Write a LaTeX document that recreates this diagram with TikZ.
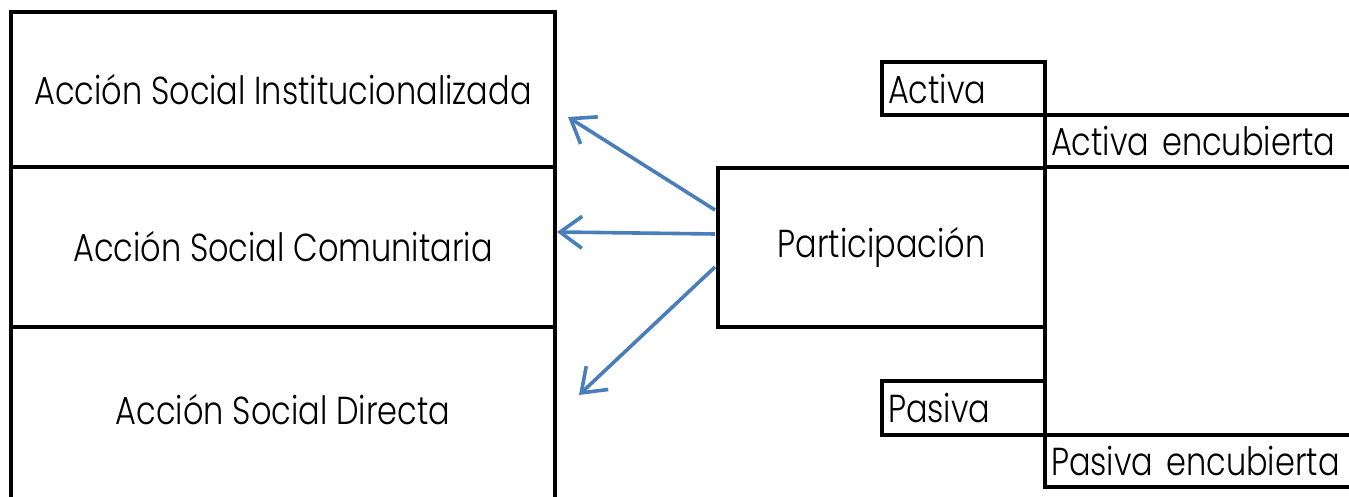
\documentclass[tikz,border=0pt]{standalone}
\usepackage{fontspec}
\setmainfont{Poppins Light}[FakeStretch=0.82]
\usetikzlibrary{arrows.meta,calc}

\definecolor{arrowblue}{HTML}{4A7EBB}

\tikzset{
  cell/.style={draw=black, line width=2pt, inner sep=0pt, outer sep=0pt,
    font=\fontsize{19.5}{23}\selectfont},
  tag/.style={cell, align=left, inner xsep=3pt},
  plain/.style={inner sep=0pt, font=\fontsize{19.5}{23}\selectfont},
  link/.style={draw=arrowblue, line width=1.8pt,
    -{Straight Barb[length=11pt, width=16pt, line width=1.8pt]}}
}

\begin{document}
\begin{tikzpicture}[x=0.5pt, y=-0.5pt]
  \useasboundingbox (0,0) rectangle (1349,497);
  \clip (0,0) rectangle (1349,497);

  % left column of actions
  \node[cell, minimum width=272pt, minimum height=77.5pt] (ins) at (283,89.5)
    {Acción Social Institucionalizada};
  \node[cell, minimum width=272pt, minimum height=80pt] (com) at (283,247)
    {Acción Social Comunitaria};
  \node[cell, minimum width=272pt, minimum height=110pt] (dirbox) at (283,437) {};
  \node[plain] (dir) at (283,410) {Acción Social Directa};

  % central node
  \node[cell, minimum width=163.5pt, minimum height=79.5pt] (part) at (881.5,247.5)
    {Participación};

  % right column of participation kinds
  \node[tag, minimum height=26.5pt, text width=75.5pt] (act) at (963.5,88.5) {Activa};
  \node[tag, minimum height=26pt, text width=161.5pt] (actenc) at (1212.5,141)
    {Activa encubierta};
  \node[tag, minimum height=27pt, text width=75.5pt] (pas) at (963.5,408) {Pasiva};
  \node[tag, minimum height=26pt, text width=161.5pt] (pasenc) at (1212.5,461)
    {Pasiva encubierta};
  \draw[line width=2pt] (part.south east) -- (pas.north east);

  % arrows from participation to the actions
  \coordinate (t1) at (568,117);
  \coordinate (t2) at (557,232);
  \coordinate (t3) at (579,395);
  \draw[link] ($(part.west)+(-3,-37.5)$) -- (t1);
  \draw[link] ($(part.west)+(-3,-13.5)$) -- (t2);
  \draw[link] ($(part.west)+(-3,19.5)$) -- (t3);
\end{tikzpicture}
\end{document}
